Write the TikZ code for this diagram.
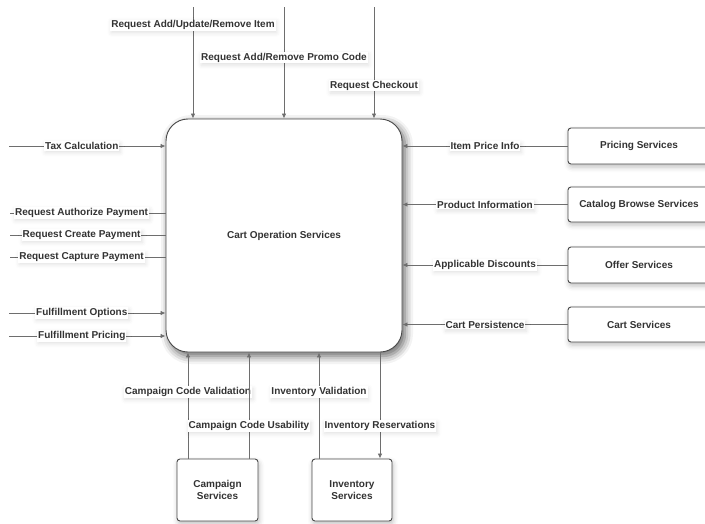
\documentclass[tikz,border=0pt]{standalone}
\usepackage{fontspec}
\setmainfont{Liberation Sans}
\usetikzlibrary{arrows.meta,shadows.blur}
\definecolor{linegray}{HTML}{6E6E6E}
\definecolor{boxgray}{HTML}{4A4A4A}
\definecolor{txt}{HTML}{333333}
\tikzset{
  svc/.style={draw=boxgray, line width=0.9pt, fill=white, rounded corners=3pt,
    font=\fontsize{10}{12}\selectfont\bfseries, text=txt, align=center,
    blur shadow={shadow xshift=1pt, shadow yshift=-3pt, shadow blur radius=5pt, shadow opacity=25}},
  conn/.style={draw=linegray, line width=0.8pt},
  arr/.style={conn, -{Latex[length=5pt,width=4.5pt]}},
  lab/.style={fill=white, inner sep=1pt, font=\fontsize{10}{12}\selectfont\bfseries, text=txt,
    blur shadow={shadow xshift=1pt, shadow yshift=-2pt, shadow blur radius=4pt, shadow opacity=12}},
  vlab/.style={lab, yshift=-1.5pt},
}
\begin{document}
\begin{tikzpicture}[x=1pt,y=-1pt]
\useasboundingbox (0,0) rectangle (705,523);
% main box
\node[svc, rounded corners=22pt, minimum width=236pt, minimum height=233pt,
  blur shadow={shadow xshift=3pt, shadow yshift=-4pt, shadow blur radius=8pt, shadow opacity=35}]
  (main) at (284,235.5) {Cart Operation Services};
% right services
\node[svc, minimum width=142pt, minimum height=36pt] (pricing) at (639,146) {Pricing Services};
\node[svc, minimum width=142pt, minimum height=35pt] (catalog) at (639,204.5) {Catalog Browse Services};
\node[svc, minimum width=142pt, minimum height=36pt] (offer) at (639,265) {Offer Services};
\node[svc, minimum width=142pt, minimum height=35pt] (cartsvc) at (639,324.5) {Cart Services};
% bottom services
\node[svc, minimum width=81pt, minimum height=62pt] (campaign) at (217.5,490) {Campaign\\Services};
\node[svc, minimum width=80pt, minimum height=62pt] (inventory) at (352,490) {Inventory\\Services};

% top inputs
\coordinate (t1) at (193,7);
\coordinate (t2) at (284,7);
\coordinate (t3) at (374,7);
\draw[arr] (t1) -- node[vlab, pos=0.15] {Request Add/Update/Remove Item} (t1 |- main.north);
\draw[arr] (t2) -- node[vlab, pos=0.44] {Request Add/Remove Promo Code} (t2 |- main.north);
\draw[arr] (t3) -- node[vlab, pos=0.69] {Request Checkout} (t3 |- main.north);

% left inputs
\coordinate (l1) at (9,146);
\coordinate (l2) at (10,213);
\coordinate (l3) at (10,235);
\coordinate (l4) at (10,257);
\coordinate (l5) at (9,313);
\coordinate (l6) at (9,336);
\draw[arr] (l1) -- node[lab, pos=0.465] {Tax Calculation} (l1 -| main.west);
\draw[conn] (l2) -- node[lab, pos=0.46] {Request Authorize Payment} (l2 -| main.west);
\draw[conn] (l3) -- node[lab, pos=0.46] {Request Create Payment} (l3 -| main.west);
\draw[conn] (l4) -- node[lab, pos=0.46] {Request Capture Payment} (l4 -| main.west);
\draw[arr] (l5) -- node[lab, pos=0.465] {Fulfillment Options} (l5 -| main.west);
\draw[arr] (l6) -- node[lab, pos=0.465] {Fulfillment Pricing} (l6 -| main.west);

% right inputs
\draw[arr] (pricing.west) -- node[lab] {Item Price Info} (pricing.west -| main.east);
\draw[arr] (catalog.west) -- node[lab] {Product Information} (catalog.west -| main.east);
\draw[arr] (offer.west) -- node[lab] {Applicable Discounts} (offer.west -| main.east);
\draw[arr] (cartsvc.west) -- node[lab] {Cart Persistence} (cartsvc.west -| main.east);

% bottom
\coordinate (b1) at (188,0);
\coordinate (b2) at (249,0);
\coordinate (b3) at (319,0);
\coordinate (b4) at (380,0);
\draw[arr] (b1 |- campaign.north) -- node[vlab, pos=0.64] {Campaign Code Validation} (b1 |- main.south);
\draw[arr] (b2 |- campaign.north) -- node[vlab, pos=0.32] {Campaign Code Usability} (b2 |- main.south);
\draw[arr] (b3 |- inventory.north) -- node[vlab, pos=0.64] {Inventory Validation} (b3 |- main.south);
\draw[arr] (b4 |- main.south) -- node[vlab, pos=0.68] {Inventory Reservations} (b4 |- inventory.north);
\end{tikzpicture}
\end{document}
